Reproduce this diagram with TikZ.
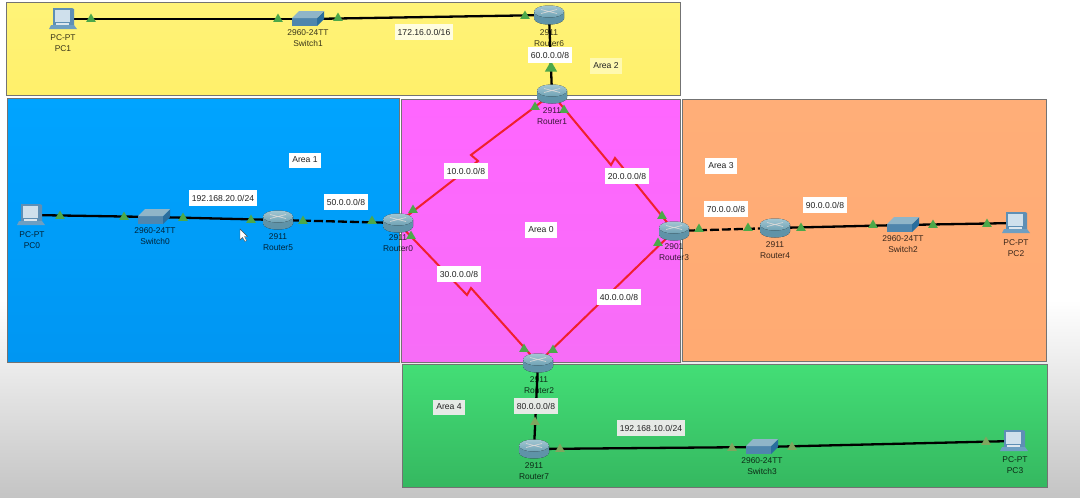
\documentclass[tikz,border=0pt]{standalone}
\usepackage{fontspec}
\setmainfont{Liberation Sans}
\usetikzlibrary{shapes.geometric}
\definecolor{ink}{HTML}{222222}
\definecolor{rtA}{HTML}{5F93A8}
\definecolor{rtB}{HTML}{D5E0E6}
\definecolor{rtC}{HTML}{A3C6D2}
\definecolor{rtD}{HTML}{6FA3B5}
\definecolor{swA}{HTML}{4F86AD}
\definecolor{swB}{HTML}{2A6E9E}
\definecolor{swC}{HTML}{8FB5C8}
\definecolor{pcA}{HTML}{5E8FB5}
\definecolor{pcB}{HTML}{CFE0EC}
\definecolor{pcC}{HTML}{6E9FC2}
\definecolor{pcD}{HTML}{DDE7EE}
\definecolor{bgB}{HTML}{C4C4C4}
\definecolor{yeA}{HTML}{FFF378}
\definecolor{yeB}{HTML}{FFF06A}
\definecolor{blA}{HTML}{00A4FF}
\definecolor{blB}{HTML}{0096F2}
\definecolor{maA}{HTML}{FF66FF}
\definecolor{maB}{HTML}{F76DF7}
\definecolor{orA}{HTML}{FFAE78}
\definecolor{orB}{HTML}{FFAA72}
\definecolor{grA}{HTML}{43DE76}
\definecolor{grB}{HTML}{35B860}
\definecolor{lkA}{HTML}{4CA84A}
\definecolor{lkB}{HTML}{7FA65E}
\definecolor{lbY}{HTML}{FFFDE0}
\definecolor{lbZ}{HTML}{FFF9B0}
\definecolor{lbG}{HTML}{E6EAE6}
\definecolor{linkred}{HTML}{F0202E}
\tikzset{
  x=1pt,y=-1pt,
  area/.style={draw=black!55,line width=.9pt},
  dev/.style={inner sep=0pt,minimum size=8pt},
  devcap/.style={font=\fontsize{8.4}{11}\selectfont,align=center,text=black,text opacity=.78,inner sep=0pt},
  lab/.style={font=\fontsize{8.6}{10}\selectfont,fill=white,text=ink,inner xsep=3pt,inner ysep=4.5pt},
  serial/.style={draw=linkred,line width=2pt},
  wire/.style={draw=black,line width=2.3pt},
  dwire/.style={wire,dash pattern=on 9pt off 3pt},
  lkmark/.style={regular polygon,regular polygon sides=3,inner sep=0pt,minimum size=11pt,fill=#1,draw=none},
  lkmark/.default=lkA,
  router/.pic={
    \fill[left color=rtA,middle color=rtB,right color=rtA] (-15,-3.5) -- (-15,3.5) arc[start angle=180,end angle=0,x radius=15,y radius=6] -- (15,-3.5) -- cycle;
    \fill[top color=rtC,bottom color=rtD] (0,-3.5) ellipse[x radius=15,y radius=6];
    \draw[white!85!black,line width=.7pt] (-8,-5.5) -- (8,-1.5) (-8,-1.5) -- (8,-5.5);
  },
  switchicon/.pic={
    \fill[swA] (-16,-1) rectangle (9,7);
    \fill[swB] (9,-1) -- (16,-8) -- (16,0) -- (9,7) -- cycle;
    \fill[swC] (-16,-1) -- (-9,-8) -- (16,-8) -- (9,-1) -- cycle;
  },
  pcicon/.pic={
    \fill[pcA] (-10,-11) -- (9,-11) -- (11,-10) -- (11,6) -- (-10,6) -- cycle;
    \fill[pcB] (-8,-9) rectangle (7,3);
    \fill[pcC] (-12,6) -- (11,6) -- (14,10) -- (-14,10) -- cycle;
    \fill[pcD] (-7,4) rectangle (6,5.5);
  },
}
\begin{document}
\begin{tikzpicture}
\useasboundingbox (0,0) rectangle (1080,498);
\fill[white] (0,0) rectangle (1080,498);
\shade[top color=white,bottom color=bgB] (0,300) rectangle (1080,498);

% areas
\path[area,top color=yeA,bottom color=yeB] (6,2) rectangle (680,95);
\path[area,top color=blA,bottom color=blB] (7,98) rectangle (399,362);
\path[area,top color=maA,bottom color=maB] (401,99) rectangle (680,362);
\path[area,top color=orA,bottom color=orB] (682,99) rectangle (1046,361);
\path[area,top color=grA,bottom color=grB] (402,364) rectangle (1047,487);

% devices (anchors)
\node[dev] (pc1) at (63,19) {};
\node[dev] (sw1) at (308,19) {};
\node[dev] (r6) at (549,15) {};
\node[dev] (r1) at (552,94) {};
\node[dev] (r0) at (398,223) {};
\node[dev] (r5) at (278,220) {};
\node[dev] (sw0) at (154,217) {};
\node[dev] (pc0) at (31,215) {};
\node[dev] (r3) at (674,231) {};
\node[dev] (r4) at (775,228) {};
\node[dev] (sw2) at (903,225) {};
\node[dev] (pc2) at (1016,223) {};
\node[dev] (r2) at (538,363) {};
\node[dev] (r7) at (534,449) {};
\node[dev] (sw3) at (762,447) {};
\node[dev] (pc3) at (1014,441) {};

% connectors
\draw[wire] (pc1.center) -- (sw1.center);
\draw[wire] (sw1.center) -- (r6.center);
\draw[wire] (r6.center) -- (r1.center);
\draw[wire] (pc0.center) -- (sw0.center);
\draw[wire] (sw0.center) -- (r5.center);
\draw[dwire] (r5.center) -- (r0.center);
\draw[dwire] (r3.center) -- (r4.center);
\draw[wire] (r4.center) -- (sw2.center);
\draw[wire] (sw2.center) -- (pc2.center);
\draw[wire] (r2.center) -- (r7.center);
\draw[wire] (r7.center) -- (sw3.center);
\draw[wire] (sw3.center) -- (pc3.center);
\draw[serial] (r1.center) -- (471,155) -- (478,161) -- (r0.center);
\draw[serial] (r1.center) -- (611,165) -- (615,158) -- (r3.center);
\draw[serial] (r0.center) -- (467,295) -- (471,288) -- (r2.center);
\draw[serial] (r3.center) -- (r2.center);

% link markers
\foreach \n/\x/\y in {ma/91/19,mb/278/19,mc/338/18,md/525/16,
  me/535/107,mf/564/110,mg/413/210,mh/662/216,mi/411/236,mj/524/349,mk/553/350,ml/658/243,
  mm/372/221,mn/303/221,mo/251/220,mp/183/218,mq/124/217,mr/60/216,
  ms/699/229,mt/748/228,mu/801/228,mv/873/225,mw/933/225,mx/987/224}{
  \node[lkmark] (\n) at (\x,\y) {};
}
\node[lkmark,minimum size=14pt] (my) at (551,68) {};
\foreach \n/\x/\y in {mz/535/422,na/560/449,nb/732/448,nc/792/447,nd/986/442}{
  \node[lkmark=lkB] (\n) at (\x,\y) {};
}

% icons
\pic at (pc1) {pcicon};
\pic at (pc0) {pcicon};
\pic at (pc2) {pcicon};
\pic at (pc3) {pcicon};
\pic at (sw1) {switchicon};
\pic at (sw0) {switchicon};
\pic at (sw2) {switchicon};
\pic at (sw3) {switchicon};
\pic at (r6) {router};
\pic at (r1) {router};
\pic at (r0) {router};
\pic at (r5) {router};
\pic at (r3) {router};
\pic at (r4) {router};
\pic at (r2) {router};
\pic at (r7) {router};

% device captions
\node[devcap] (cpc1) at (63,43) {PC-PT\\PC1};
\node[devcap] (csw1) at (308,38) {2960-24TT\\Switch1};
\node[devcap] (cr6) at (549,38) {2911\\Router6};
\node[devcap] (cr1) at (552,116) {2911\\Router1};
\node[devcap] (cr0) at (398,243) {2911\\Router0};
\node[devcap] (cr5) at (278,242) {2911\\Router5};
\node[devcap] (csw0) at (155,236) {2960-24TT\\Switch0};
\node[devcap] (cpc0) at (32,240) {PC-PT\\PC0};
\node[devcap] (cr3) at (674,252) {2901\\Router3};
\node[devcap] (cr4) at (775,250) {2911\\Router4};
\node[devcap] (csw2) at (903,244) {2960-24TT\\Switch2};
\node[devcap] (cpc2) at (1016,248) {PC-PT\\PC2};
\node[devcap] (cr2) at (539,385) {2911\\Router2};
\node[devcap] (cr7) at (534,471) {2911\\Router7};
\node[devcap] (csw3) at (762,466) {2960-24TT\\Switch3};
\node[devcap] (cpc3) at (1015,465) {PC-PT\\PC3};

% labels
\node[lab,fill=lbY] (l1) at (424,32) {172.16.0.0/16};
\node[lab] (l2) at (550,55) {60.0.0.0/8};
\node[lab,fill=lbZ] (l3) at (606,66) {Area 2};
\node[lab] (l4) at (305,160) {Area 1};
\node[lab] (l5) at (223,198) {192.168.20.0/24};
\node[lab] (l6) at (346,202) {50.0.0.0/8};
\node[lab] (l7) at (541,230) {Area 0};
\node[lab] (l8) at (466,171) {10.0.0.0/8};
\node[lab] (l9) at (627,176) {20.0.0.0/8};
\node[lab] (l10) at (459,274) {30.0.0.0/8};
\node[lab] (l11) at (619,297) {40.0.0.0/8};
\node[lab] (l12) at (721,166) {Area 3};
\node[lab] (l13) at (726,209) {70.0.0.0/8};
\node[lab] (l14) at (825,205) {90.0.0.0/8};
\node[lab,fill=lbG] (l15) at (449,407) {Area 4};
\node[lab,fill=lbG] (l16) at (536,406) {80.0.0.0/8};
\node[lab,fill=lbG] (l17) at (651,428) {192.168.10.0/24};

% pointer
\fill[white,draw=black!70,line width=.4pt] (240,229) -- (240,240) -- (242.5,237.5) -- (245,241.5) -- (246.5,240.5) -- (244.5,236.5) -- (247.5,236.5) -- cycle;
\end{tikzpicture}
\end{document}
